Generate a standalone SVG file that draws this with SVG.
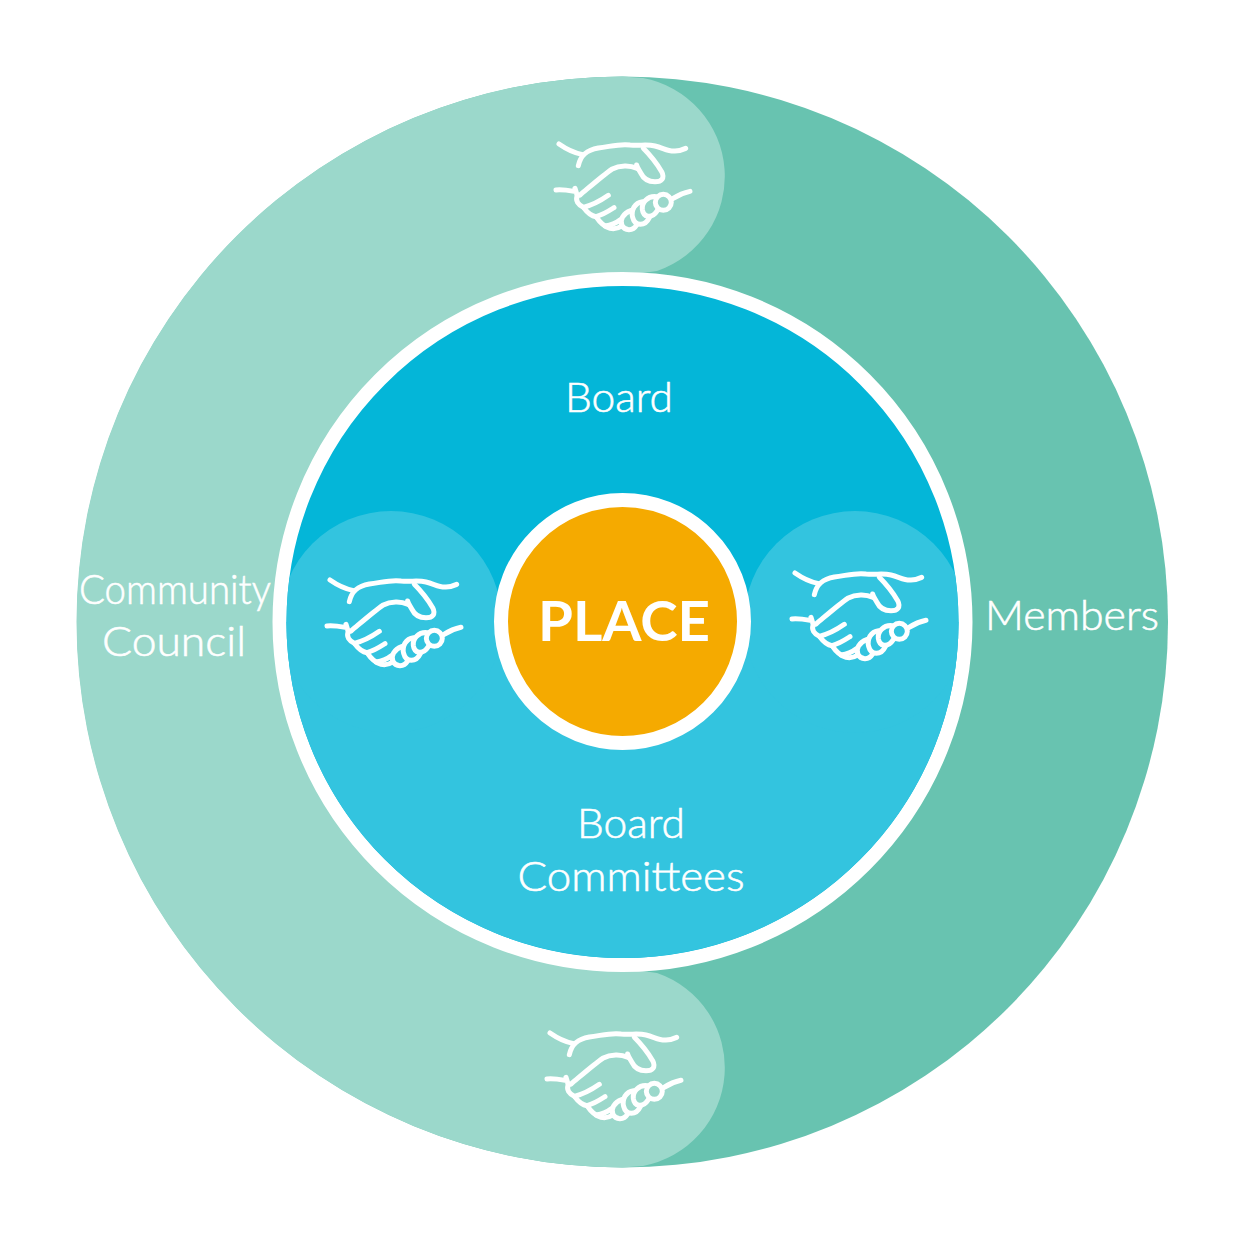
<svg xmlns="http://www.w3.org/2000/svg" xmlns:xlink="http://www.w3.org/1999/xlink" width="1245" height="1240" viewBox="0 0 1245 1240">
<style>
.lbl{font-family:"Lato","Liberation Sans",sans-serif;font-weight:300;font-size:42px;fill:#fff;stroke:#fff;stroke-width:.6;text-anchor:middle}
.hs{fill:none;stroke:#fff;stroke-width:15;stroke-linecap:round;stroke-linejoin:round}
</style>
<defs>
<clipPath id="inner"><circle cx="622.500" cy="622" r="336"/></clipPath>
<g id="handshake" class="hs">
<path d="M57 72C80 88 100 98 125 103"/>
<path d="M115 137C122 105 140 90 175 84C210 80 240 70 270 75C300 78 320 72 345 78C370 84 385 95 405 93C420 93 430 88 437 85"/>
<path d="M310 85C330 105 350 130 365 155C375 175 365 185 345 185C325 185 310 175 303 160C298 150 292 145 290 135"/>
<path d="M290 145C270 135 240 135 215 148C190 165 150 200 120 225"/>
<path d="M48 210C70 208 90 212 108 215M105 205L112 228"/>
<path d="M112 228C105 242 115 255 130 262C160 255 185 240 205 226"/>
<path d="M132 264C145 282 155 288 168 290C190 284 205 274 222 263"/>
<path d="M168 290C178 305 190 320 210 325C225 328 235 325 245 318"/>
<path d="M195 318C210 316 225 312 240 300"/>
<circle cx="370" cy="247" r="24"/>
<path d="M348 230C322 228 305 248 307 268C310 292 335 298 352 272"/>
<path d="M308 245C285 248 272 270 278 292C285 320 315 320 328 293"/>
<path d="M272 272C250 280 238 300 246 316C254 332 278 335 290 315"/>
<path d="M398 236C415 225 430 218 450 214"/>
</g>
</defs>
<g id="members">
<circle cx="622.500" cy="622" r="545.500" fill="#68c3b0"/>
<text class="lbl" x="1072" y="630" textLength="174" lengthAdjust="spacingAndGlyphs">Members</text>
</g>
<g id="community-council">
<path d="M622 76.500A545.500 545.500 0 0 0 622 1167.500L643 1166A100 100 0 0 0 657 973L622 968A346 346 0 0 1 622 276L657 271A100 100 0 0 0 643 78Z" fill="#9bd8cb"/>
<text class="lbl" x="175" y="604" textLength="192" lengthAdjust="spacingAndGlyphs">Community</text>
<text class="lbl" x="174" y="656" textLength="144" lengthAdjust="spacingAndGlyphs">Council</text>
<use xlink:href="#handshake" href="#handshake" transform="translate(540 120) scale(.3333)"/>
<use xlink:href="#handshake" href="#handshake" transform="translate(531 1009) scale(.3333)"/>
</g>
<g id="board">
<circle cx="622.500" cy="622" r="343" fill="#04b6d8" stroke="#fff" stroke-width="14"/>
<text class="lbl" x="619" y="412" textLength="108" lengthAdjust="spacingAndGlyphs">Board</text>
</g>
<g id="board-committees">
<g clip-path="url(#inner)" fill="#33c4df">
<rect x="280" y="622" width="690" height="345"/>
<circle cx="391" cy="622" r="111"/>
<circle cx="855" cy="622" r="111"/>
</g>
<text class="lbl" x="631" y="838" textLength="108" lengthAdjust="spacingAndGlyphs">Board</text>
<text class="lbl" x="631" y="891" textLength="227" lengthAdjust="spacingAndGlyphs">Committees</text>
<use xlink:href="#handshake" href="#handshake" transform="translate(311 556) scale(.3333)"/>
<use xlink:href="#handshake" href="#handshake" transform="translate(776 549) scale(.3333)"/>
</g>
<g id="place">
<circle cx="622.500" cy="621.500" r="121.500" fill="#f5aa00" stroke="#fff" stroke-width="14"/>
<text x="624" y="641" text-anchor="middle" textLength="172" lengthAdjust="spacingAndGlyphs" style="font-family:Lato,'Liberation Sans',sans-serif;font-weight:700;font-size:56px;fill:#fff">PLACE</text>
</g>
</svg>
